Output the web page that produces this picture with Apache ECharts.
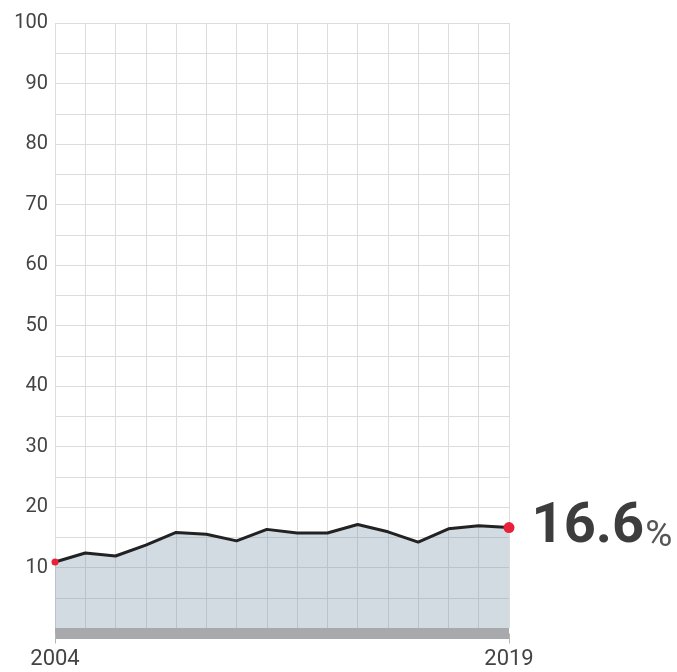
<!DOCTYPE html>
<html>
<head>
<meta charset="utf-8">
<script src="https://cdn.jsdelivr.net/npm/echarts@6/dist/echarts.min.js"></script>
<style>
html,body{margin:0;padding:0;background:#fff;}
#c{width:677px;height:672px;}
</style>
</head>
<body>
<div id="c"></div>
<script>
var years = ['2004','2005','2006','2007','2008','2009','2010','2011','2012','2013','2014','2015','2016','2017','2018','2019'];
var values = [10.9, 12.4, 11.9, 13.7, 15.8, 15.5, 14.4, 16.3, 15.7, 15.7, 17.1, 15.9, 14.2, 16.4, 16.9, 16.6];
var yTicks = [10, 20, 30, 40, 50, 60, 70, 80, 90, 100];

var last = values.length - 1;
var data = values.map(function (v, i) {
  var item = { value: v };
  if (i === 0 || i === last) {
    item.symbol = 'circle';
    item.symbolSize = i === 0 ? 7 : 11;
    item.itemStyle = { color: '#e8213a' };
  } else {
    item.symbol = 'none';
  }
  if (i === last) {
    item.label = {
      show: true,
      position: 'right',
      distance: 17,
      formatter: function (p) { return '{a|' + p.value + '}{b|%}'; },
      rich: {
        a: { fontFamily: 'Roboto', fontWeight: 'bold', fontSize: 56, color: '#3d3d3d', lineHeight: 56, verticalAlign: 'bottom' },
        b: { fontFamily: 'Roboto', fontWeight: 'normal', fontSize: 37, color: '#555', lineHeight: 56, verticalAlign: 'bottom', padding: [0, 0, 0, 1] }
      }
    };
  }
  return item;
});

var chart = echarts.init(document.getElementById('c'), null, { renderer: 'canvas' });
chart.setOption({
  animation: false,
  backgroundColor: '#fff',
  grid: { left: 55, right: 168, top: 23, bottom: 44, containLabel: false },
  xAxis: {
    type: 'category',
    data: years,
    boundaryGap: false,
    offset: 5.5,
    axisLine: { show: true, onZero: false, lineStyle: { color: '#a7a9ac', width: 11, cap: 'butt' } },
    axisTick: {
      show: true,
      length: 10,
      interval: function (i) { return i === 0 || i === last; },
      lineStyle: { color: '#b5b5b5', width: 1 }
    },
    axisLabel: {
      show: true,
      margin: 15,
      interval: function (i) { return i === 0 || i === last; },
      fontFamily: 'Roboto',
      fontSize: 22,
      color: '#444'
    },
    splitLine: { show: true, interval: 0, lineStyle: { color: '#dcdcdc', width: 1 } }
  },
  yAxis: {
    type: 'value',
    min: 0,
    max: 100,
    interval: 5,
    axisLine: { show: false },
    axisTick: { show: false },
    axisLabel: {
      margin: 7,
      fontFamily: 'Roboto',
      fontSize: 20,
      color: '#444',
      formatter: function (v) { return yTicks.indexOf(v) >= 0 ? String(v) : ''; }
    },
    splitLine: { show: true, lineStyle: { color: '#dcdcdc', width: 1 } }
  },
  series: [{
    type: 'line',
    data: data,
    showAllSymbol: true,
    lineStyle: { color: '#222', width: 3 },
    areaStyle: { color: 'rgba(109,137,160,0.31)', opacity: 1, origin: 'start' },
    z: 3
  }]
});
</script>
</body>
</html>
